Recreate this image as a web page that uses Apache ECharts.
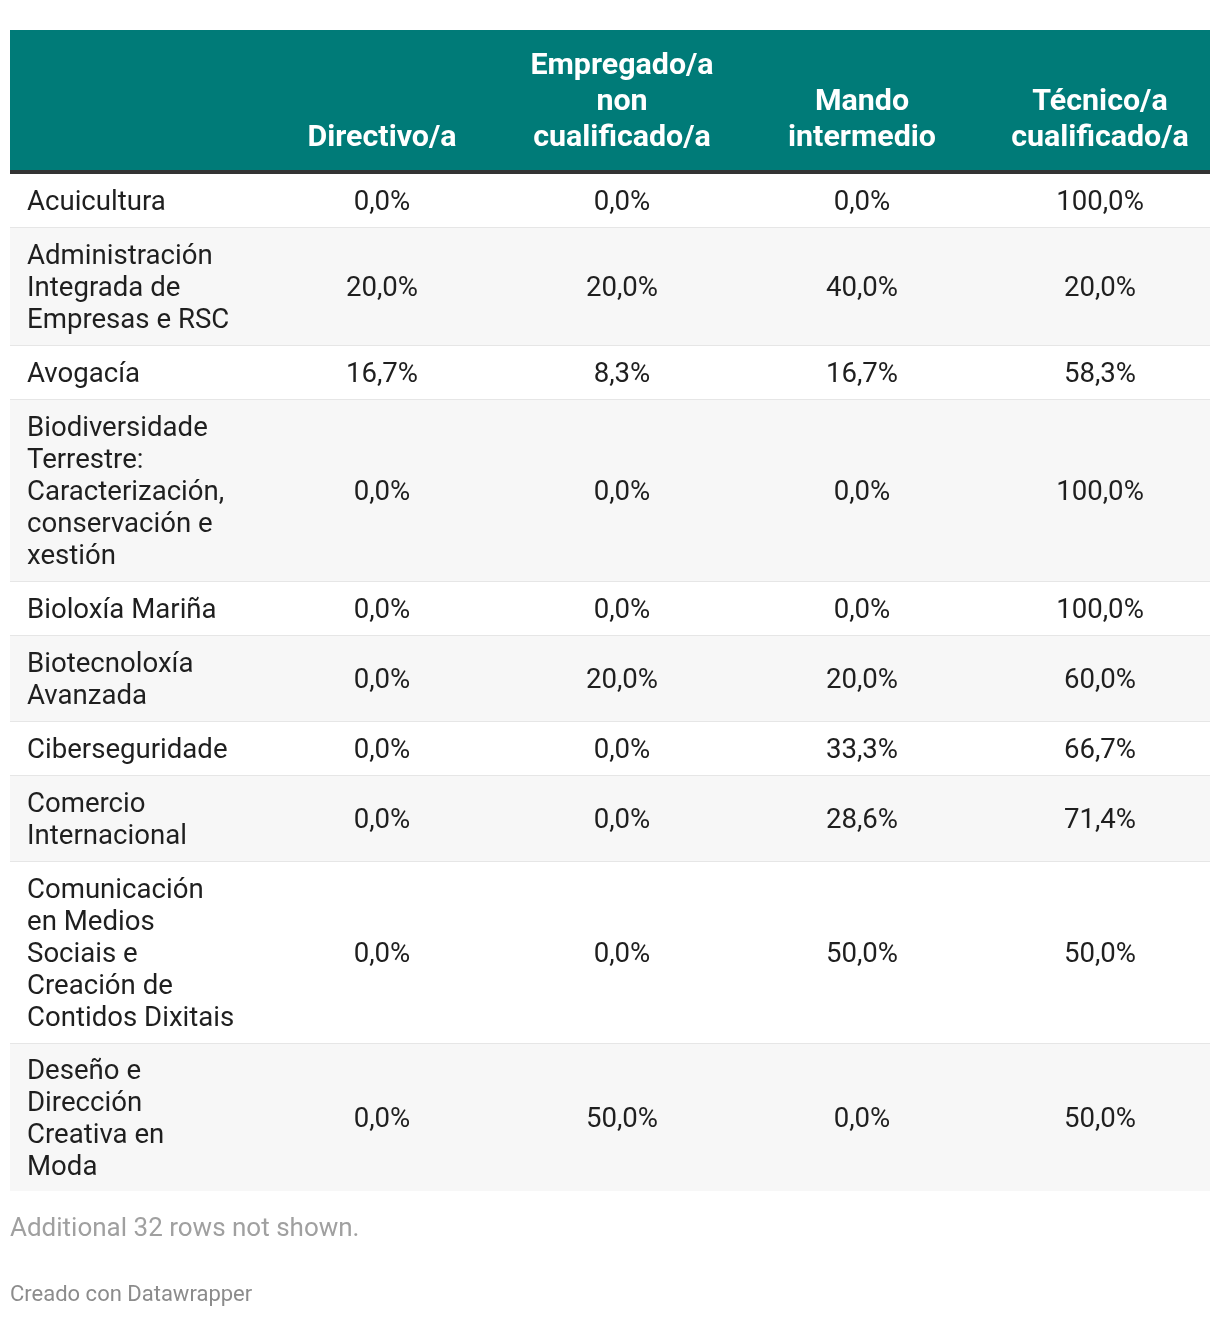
<!DOCTYPE html>
<html><head><meta charset="utf-8">
<script src="https://cdn.jsdelivr.net/npm/echarts@6/dist/echarts.min.js"></script>
<style>html,body{margin:0;padding:0;background:#fff}#c{width:1220px;height:1318px}</style>
</head><body><div id="c"></div>
<script>
// ---- data ----
const categories = [
  'Acuicultura',
  'Administración Integrada de Empresas e RSC',
  'Avogacía',
  'Biodiversidade Terrestre: Caracterización, conservación e xestión',
  'Bioloxía Mariña',
  'Biotecnoloxía Avanzada',
  'Ciberseguridade',
  'Comercio Internacional',
  'Comunicación en Medios Sociais e Creación de Contidos Dixitais',
  'Deseño e Dirección Creativa en Moda'
];
const columnTitles = ['Directivo/a', 'Empregado/a non cualificado/a', 'Mando intermedio', 'Técnico/a cualificado/a'];
const directivo = [0, 20, 16.7, 0, 0, 0, 0, 0, 0, 0];
const empregadoNonCualificado = [0, 20, 8.3, 0, 0, 20, 0, 0, 0, 50];
const mandoIntermedio = [0, 40, 16.7, 0, 0, 20, 33.3, 28.6, 50, 0];
const tecnicoCualificado = [100, 20, 58.3, 100, 100, 60, 66.7, 71.4, 50, 50];
const notShownNote = 'Additional 32 rows not shown.';
const creditText = 'Creado con Datawrapper';

// ---- layout helpers ----
const BODY_FONT = '27.6px Roboto';
const HEAD_FONT = 'bold 30.4px Roboto';
const BODY_LH = 32, HEAD_LH = 36;
const TABLE_W = 1200;
const colCenters = [372, 612, 852, 1090];
const HEAD_H = 140, HEAD_BORDER = 4;

const mctx = document.createElement('canvas').getContext('2d');
function wrap(text, font, maxW) {
  mctx.font = font;
  const words = text.split(' ');
  const lines = []; let cur = '';
  for (const w of words) {
    const t = cur ? cur + ' ' + w : w;
    if (cur && mctx.measureText(t).width > maxW) { lines.push(cur); cur = w; }
    else cur = t;
  }
  lines.push(cur);
  return lines;
}
const catLines = categories.map(c => wrap(c, BODY_FONT, 211));
const headLines = columnTitles.map(c => wrap(c, HEAD_FONT, 205));
const rowTop = [], rowH = [];
let acc = HEAD_H + HEAD_BORDER;
catLines.forEach((l, i) => {
  rowTop.push(acc);
  const h = l.length * BODY_LH + (i === catLines.length - 1 ? 19 : 22);
  rowH.push(h); acc += h;
});
const TOTAL = acc;
const fmt = v => v.toFixed(1).replace('.', ',') + '%';

const rowData = categories.map((c, i) => [i, directivo[i], empregadoNonCualificado[i], mandoIntermedio[i], tecnicoCualificado[i]]);
const headData = columnTitles.map((t, j) => [j]);

const chart = echarts.init(document.getElementById('c'), null, {renderer: 'canvas'});
chart.setOption({
  animation: false,
  grid: {left: 10, top: 30, width: TABLE_W, height: TOTAL},
  xAxis: {type: 'value', min: 0, max: TABLE_W, show: false},
  yAxis: {type: 'value', min: 0, max: TOTAL, inverse: true, show: false},
  series: [
    {
      type: 'custom', name: 'header', data: headData, silent: true,
      renderItem: function (params, api) {
        const j = api.value(0);
        const children = [];
        if (j === 0) {
          const a = api.coord([0, 0]), b = api.coord([TABLE_W, HEAD_H]), c = api.coord([TABLE_W, HEAD_H + HEAD_BORDER]);
          children.push({type: 'rect', shape: {x: a[0], y: a[1], width: b[0] - a[0], height: b[1] - a[1]}, style: {fill: '#007b78'}});
          children.push({type: 'rect', shape: {x: a[0], y: b[1], width: b[0] - a[0], height: c[1] - b[1]}, style: {fill: '#333333'}});
        }
        const lines = headLines[j];
        const lastCenter = 108;
        const center = lastCenter - (lines.length - 1) * HEAD_LH / 2;
        const p = api.coord([colCenters[j], center]);
        children.push({type: 'text', style: {text: lines.join('\n'), x: p[0], y: p[1], font: HEAD_FONT, fill: '#ffffff', align: 'center', verticalAlign: 'middle', lineHeight: HEAD_LH}});
        return {type: 'group', children: children};
      }
    },
    {
      type: 'custom', name: 'rows', data: rowData, silent: true,
      renderItem: function (params, api) {
        const i = api.value(0);
        const top = rowTop[i], h = rowH[i];
        const a = api.coord([0, top]), b = api.coord([TABLE_W, top + h]);
        const children = [];
        const last = i === categories.length - 1;
        children.push({type: 'rect', shape: {x: a[0], y: a[1], width: b[0] - a[0], height: b[1] - a[1] - (last ? 0 : 1)}, style: {fill: i % 2 ? '#f7f7f7' : '#ffffff'}});
        if (!last) children.push({type: 'rect', shape: {x: a[0], y: b[1] - 1, width: b[0] - a[0], height: 1}, style: {fill: '#e6e6e6'}});
        const mid = (a[1] + a[1] + (last ? h + 2 : h) - 1) / 2 + 2.5;
        const tx = api.coord([17, 0])[0];
        children.push({type: 'text', style: {text: catLines[i].join('\n'), x: tx, y: mid, font: BODY_FONT, fill: '#1f1f1f', align: 'left', verticalAlign: 'middle', lineHeight: BODY_LH}});
        for (let k = 0; k < 4; k++) {
          const cx = api.coord([colCenters[k], 0])[0];
          children.push({type: 'text', style: {text: fmt(api.value(k + 1)), x: cx, y: mid, font: BODY_FONT, fill: '#1f1f1f', align: 'center', verticalAlign: 'middle'}});
        }
        return {type: 'group', children: children};
      }
    }
  ],
  graphic: [
    {type: 'text', x: 10, y: 1229, style: {text: notShownNote, font: '26px Roboto', fill: '#a0a0a0', verticalAlign: 'middle'}},
    {type: 'text', x: 10, y: 1295, style: {text: creditText, font: '22px Roboto', fill: '#8c8c8c', verticalAlign: 'middle'}}
  ]
});
</script>
</body></html>
